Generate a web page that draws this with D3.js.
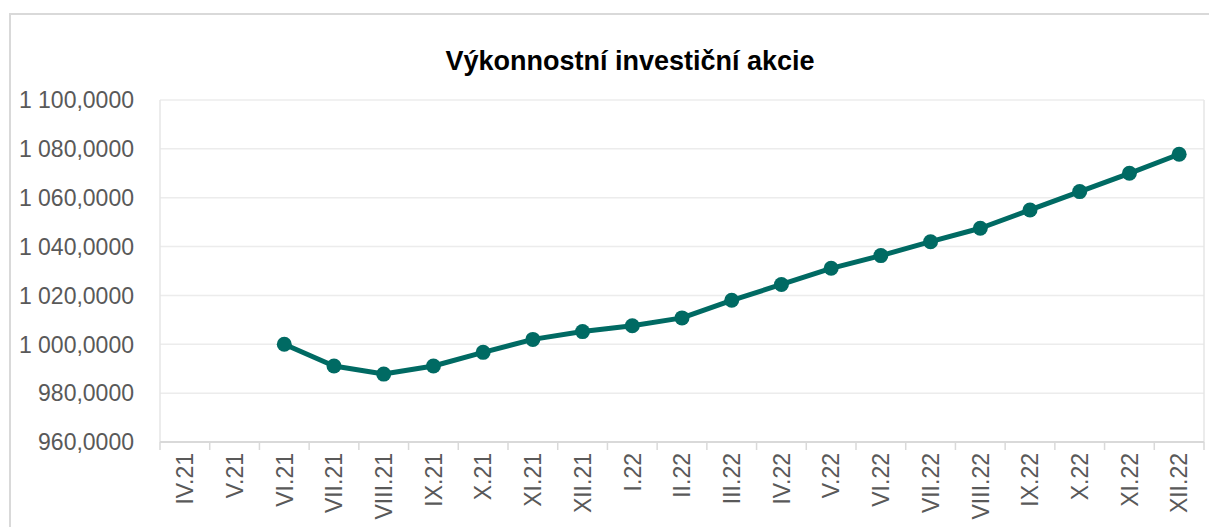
<!DOCTYPE html>
<html lang="cs">
<head>
    <meta charset="UTF-8">
    <title>Výkonnostní investiční akcie</title>
    <script src="https://cdnjs.cloudflare.com/ajax/libs/d3/7.8.5/d3.min.js"></script>
    <style>
        body { margin: 0; background: #fff; }
        text { font-family: "Liberation Sans", Arial, sans-serif; }
    </style>
</head>
<body>
    <div id="chart"></div>

    <script>
        // data
        const months = ["IV.21", "V.21", "VI.21", "VII.21", "VIII.21", "IX.21", "X.21", "XI.21", "XII.21",
            "I.22", "II.22", "III.22", "IV.22", "V.22", "VI.22", "VII.22", "VIII.22", "IX.22", "X.22", "XI.22", "XII.22"];
        const values = [null, null, 1000.0, 991.1, 987.8, 991.1, 996.7, 1002.0, 1005.2,
            1007.6, 1010.8, 1018.0, 1024.5, 1031.1, 1036.3, 1042.0, 1047.5, 1055.0, 1062.5, 1070.0, 1077.8];
        const yTicks = [960, 980, 1000, 1020, 1040, 1060, 1080, 1100];

        const width = 1209, height = 527;
        const margin = { left: 160, right: 5, top: 100, bottom: 85 };

        const svg = d3.select("#chart").append("svg")
            .attr("width", width)
            .attr("height", height);

        // chart border
        svg.append("path")
            .attr("d", `M10,${height} V14 H${width}`)
            .attr("fill", "none")
            .attr("stroke", "#d9d9d9")
            .attr("stroke-width", 2);

        const x = d3.scaleBand()
            .domain(months)
            .range([margin.left, width - margin.right]);

        const y = d3.scaleLinear()
            .domain([960, 1100])
            .range([height - margin.bottom, margin.top]);

        // number format like "1 100,0000"
        const fmt = v => {
            const s = v.toFixed(4).replace(".", ",");
            const [i, d] = s.split(",");
            return i.replace(/\B(?=(\d{3})+(?!\d))/g, " ") + "," + d;
        };

        // gridlines
        svg.append("g")
            .selectAll("line")
            .data(yTicks)
            .join("line")
            .attr("x1", margin.left)
            .attr("x2", width - margin.right)
            .attr("y1", d => y(d))
            .attr("y2", d => y(d))
            .attr("stroke", "#ececec")
            .attr("stroke-width", 1.5);

        // plot side lines
        svg.append("line")
            .attr("x1", margin.left).attr("x2", margin.left)
            .attr("y1", y(1100)).attr("y2", y(960))
            .attr("stroke", "#e6e6e6").attr("stroke-width", 1.5);
        svg.append("line")
            .attr("x1", width - margin.right).attr("x2", width - margin.right)
            .attr("y1", y(1100)).attr("y2", y(960))
            .attr("stroke", "#e6e6e6").attr("stroke-width", 1.5);

        // y labels
        svg.append("g")
            .selectAll("text")
            .data(yTicks)
            .join("text")
            .attr("x", 134)
            .attr("y", d => y(d))
            .attr("dy", "0.36em")
            .attr("text-anchor", "end")
            .attr("fill", "#595959")
            .style("font-size", "23px")
            .text(fmt);

        // x axis line and ticks at band edges
        const y0 = y(960);
        svg.append("line")
            .attr("x1", margin.left).attr("x2", width - margin.right)
            .attr("y1", y0).attr("y2", y0)
            .attr("stroke", "#d9d9d9").attr("stroke-width", 2);

        const edges = months.map(m => x(m)).concat([x.range()[1]]);
        svg.append("g")
            .selectAll("line")
            .data(edges)
            .join("line")
            .attr("x1", d => d).attr("x2", d => d)
            .attr("y1", y0).attr("y2", y0 + 8)
            .attr("stroke", "#d9d9d9").attr("stroke-width", 1.5);

        // x labels, rotated
        svg.append("g")
            .selectAll("text")
            .data(months)
            .join("text")
            .attr("transform", d => `translate(${x(d) + x.bandwidth() / 2},${y0 + 11}) rotate(-90)`)
            .attr("dy", "0.36em")
            .attr("text-anchor", "end")
            .attr("fill", "#595959")
            .style("font-size", "23px")
            .text(d => d);

        // series
        const pts = months.map((m, i) => ({ m, v: values[i] })).filter(d => d.v != null);

        const line = d3.line()
            .x(d => x(d.m) + x.bandwidth() / 2)
            .y(d => y(d.v));

        svg.append("path")
            .datum(pts)
            .attr("d", line)
            .attr("fill", "none")
            .attr("stroke", "#006A63")
            .attr("stroke-width", 5)
            .attr("stroke-linejoin", "round");

        svg.append("g")
            .selectAll("circle")
            .data(pts)
            .join("circle")
            .attr("cx", d => x(d.m) + x.bandwidth() / 2)
            .attr("cy", d => y(d.v))
            .attr("r", 7.5)
            .attr("fill", "#006A63");

        // title
        svg.append("text")
            .attr("x", 630)
            .attr("y", 70)
            .attr("text-anchor", "middle")
            .attr("fill", "#000")
            .style("font-size", "27px")
            .style("font-weight", "bold")
            .text("Výkonnostní investiční akcie");
    </script>
</body>
</html>
